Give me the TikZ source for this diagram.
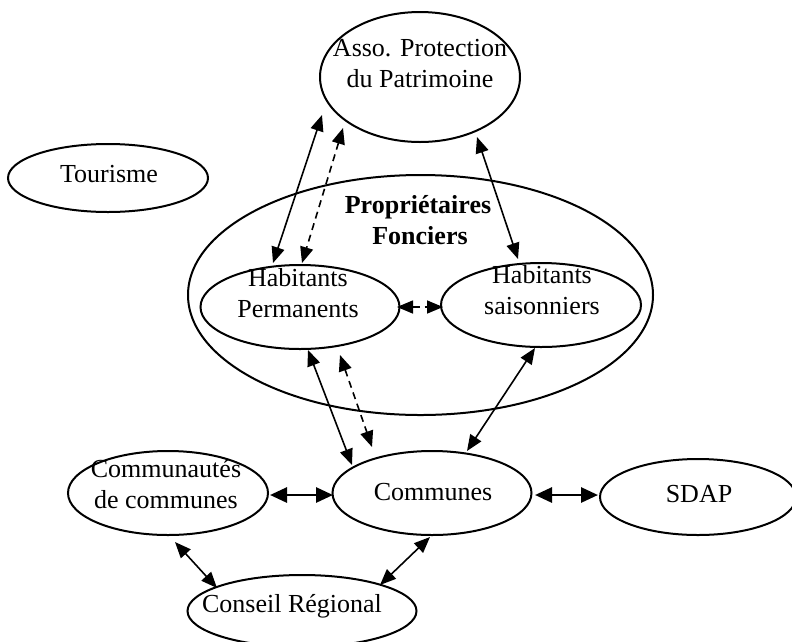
\documentclass[tikz,border=0pt]{standalone}
\usepackage{fontspec}
\setmainfont{Liberation Serif}
\usetikzlibrary{shapes.geometric,arrows.meta}
\begin{document}
\begin{tikzpicture}[x=1pt,y=-1pt,
  oval/.style={draw,ellipse,line width=2pt,inner sep=0pt},
  txt/.style={anchor=base,inner sep=0pt,font=\fontsize{26}{31}\selectfont},
  btxt/.style={txt,font=\fontsize{26}{31}\selectfont\bfseries},
  link/.style={line width=1.6pt,<->,>={Triangle[length=16pt,width=13pt]}},
  dlink/.style={link,dash pattern=on 7pt off 5pt},
  hlink/.style={line width=2.8pt,<->,>={Triangle[length=17pt,width=15pt]}}
]
\useasboundingbox (0,0) rectangle (792,641);
\clip (0,0) rectangle (792,641);

% ellipses
\node[oval,minimum width=465pt,minimum height=240pt] (prop) at (420.5,295) {};
\node[oval,minimum width=200pt,minimum height=130pt] (asso) at (420,77) {};
\node[oval,minimum width=200pt,minimum height=68pt] (tour) at (108,178) {};
\node[oval,minimum width=199pt,minimum height=84pt] (hp) at (300,307) {};
\node[oval,minimum width=200pt,minimum height=84pt] (hs) at (541,305) {};
\node[oval,minimum width=200pt,minimum height=84pt] (ccom) at (168,493) {};
\node[oval,minimum width=199pt,minimum height=84pt] (com) at (432,493) {};
\node[oval,minimum width=196pt,minimum height=76pt] (sdap) at (698,497) {};
\node[oval,minimum width=229pt,minimum height=72pt] (cr) at (302,611) {};

% texts
\node[txt] (assoA) at (420,56) {Asso. Protection};
\node[txt] (assoB) at (420,87) {du Patrimoine};
\node[txt] (tourT) at (109,182) {Tourisme};
\node[btxt] (propA) at (418,213) {Propriétaires};
\node[btxt] (propB) at (420,244) {Fonciers};
\node[txt] (hpA) at (298,286) {Habitants};
\node[txt] (hpB) at (298,317) {Permanents};
\node[txt] (hsA) at (542,283) {Habitants};
\node[txt] (hsB) at (542,314) {saisonniers};
\node[txt] (ccomA) at (166,477) {Communautés};
\node[txt] (ccomB) at (166,508) {de communes};
\node[txt] (comT) at (433,500) {Communes};
\node[txt] (sdapT) at (699,502) {SDAP};
\node[txt] (crT) at (292,612) {Conseil Régional};

% connector end points
\coordinate (a1) at (322,115); \coordinate (h1) at (273,263);
\coordinate (a2) at (343,128); \coordinate (h2) at (302,263);
\coordinate (a3) at (477,137); \coordinate (s3) at (518,259);
\coordinate (h4) at (397,307); \coordinate (s4) at (443,307);
\coordinate (h5) at (308,350); \coordinate (c5) at (352,465);
\coordinate (h6) at (340,355); \coordinate (c6) at (372,447);
\coordinate (s7) at (535,348); \coordinate (c7) at (467,451);
\coordinate (k8) at (270,495); \coordinate (c8) at (333,495);
\coordinate (c9) at (535,495); \coordinate (d9) at (598,495);
\coordinate (k10) at (175,542); \coordinate (r10) at (217,588);
\coordinate (c11) at (430,537); \coordinate (r11) at (380,585);

% connectors
\draw[link] (a1) -- (h1);
\draw[dlink] (a2) -- (h2);
\draw[link] (a3) -- (s3);
\draw[dlink] (h4) -- (s4);
\draw[link] (h5) -- (c5);
\draw[dlink] (h6) -- (c6);
\draw[link] (s7) -- (c7);
\draw[hlink] (k8) -- (c8);
\draw[hlink] (c9) -- (d9);
\draw[link] (k10) -- (r10);
\draw[link] (c11) -- (r11);
\end{tikzpicture}
\end{document}
